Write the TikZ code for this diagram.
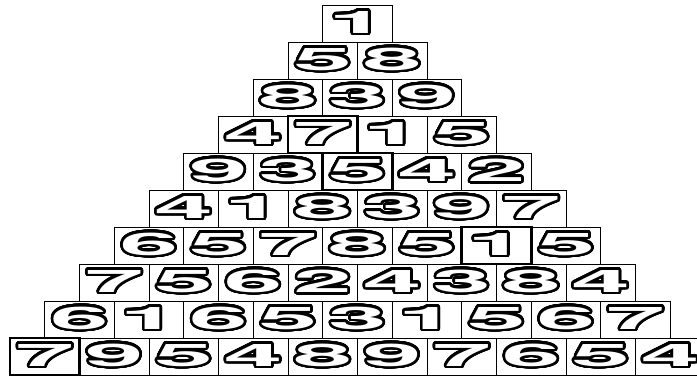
\documentclass[tikz,border=0pt]{standalone}
\usepackage{fontspec}
\usepackage{graphicx}
\usepackage[copies]{contour}
\setmainfont{TeX Gyre Heros}
\usetikzlibrary{positioning}
\contourlength{2.6pt}
\contournumber{48}
\newcommand{\outdigit}[1]{\contour{black}{\scalebox{3.4}[1]{#1}}}

\begin{document}
\begin{tikzpicture}[
    x=1pt, y=1pt,
    cell/.style={
        rectangle, draw=black, line width=0.9pt,
        minimum width=69.5pt, minimum height=37pt,
        inner sep=0pt, outer sep=0pt, text=white,
        font=\fontsize{31}{31}\selectfont\bfseries
    },
    hot/.style={cell, line width=2.6pt},
    node distance=0pt
]
\useasboundingbox (0,0) rectangle (697,-376);

% ===================================================================
% ROWS 1--3
% ===================================================================
\node[cell] (r1c1) at (357.5,-23.5) {\outdigit{1}};

\node[cell, below=of r1c1.south west] (r2c1) {\outdigit{5}};
\node[cell, right=of r2c1] (r2c2) {\outdigit{8}};

\node[cell, below=of r2c1.south west] (r3c1) {\outdigit{8}};
\node[cell, right=of r3c1] (r3c2) {\outdigit{3}};
\node[cell, right=of r3c2] (r3c3) {\outdigit{9}};

% ===================================================================
% ROWS 4--6
% ===================================================================
\node[cell, below=of r3c1.south west] (r4c1) {\outdigit{4}};
\node[hot, right=of r4c1] (r4c2) {\outdigit{7}};
\node[cell, right=of r4c2] (r4c3) {\outdigit{1}};
\node[cell, right=of r4c3] (r4c4) {\outdigit{5}};

\node[cell, below=of r4c1.south west] (r5c1) {\outdigit{9}};
\node[cell, right=of r5c1] (r5c2) {\outdigit{3}};
\node[hot, right=of r5c2] (r5c3) {\outdigit{5}};
\node[cell, right=of r5c3] (r5c4) {\outdigit{4}};
\node[cell, right=of r5c4] (r5c5) {\outdigit{2}};

\node[cell, below=of r5c1.south west] (r6c1) {\outdigit{4}};
\node[cell, right=of r6c1] (r6c2) {\outdigit{1}};
\node[cell, right=of r6c2] (r6c3) {\outdigit{8}};
\node[cell, right=of r6c3] (r6c4) {\outdigit{3}};
\node[cell, right=of r6c4] (r6c5) {\outdigit{9}};
\node[cell, right=of r6c5] (r6c6) {\outdigit{7}};

% ===================================================================
% ROWS 7--8
% ===================================================================
\node[cell, below=of r6c1.south west] (r7c1) {\outdigit{6}};
\node[cell, right=of r7c1] (r7c2) {\outdigit{5}};
\node[cell, right=of r7c2] (r7c3) {\outdigit{7}};
\node[cell, right=of r7c3] (r7c4) {\outdigit{8}};
\node[cell, right=of r7c4] (r7c5) {\outdigit{5}};
\node[hot, right=of r7c5] (r7c6) {\outdigit{1}};
\node[cell, right=of r7c6] (r7c7) {\outdigit{5}};

\node[cell, below=of r7c1.south west] (r8c1) {\outdigit{7}};
\node[cell, right=of r8c1] (r8c2) {\outdigit{5}};
\node[cell, right=of r8c2] (r8c3) {\outdigit{6}};
\node[cell, right=of r8c3] (r8c4) {\outdigit{2}};
\node[cell, right=of r8c4] (r8c5) {\outdigit{4}};
\node[cell, right=of r8c5] (r8c6) {\outdigit{3}};
\node[cell, right=of r8c6] (r8c7) {\outdigit{8}};
\node[cell, right=of r8c7] (r8c8) {\outdigit{4}};

% ===================================================================
% ROWS 9--10
% ===================================================================
\node[cell, below=of r8c1.south west] (r9c1) {\outdigit{6}};
\node[cell, right=of r9c1] (r9c2) {\outdigit{1}};
\node[cell, right=of r9c2] (r9c3) {\outdigit{6}};
\node[cell, right=of r9c3] (r9c4) {\outdigit{5}};
\node[cell, right=of r9c4] (r9c5) {\outdigit{3}};
\node[cell, right=of r9c5] (r9c6) {\outdigit{1}};
\node[cell, right=of r9c6] (r9c7) {\outdigit{5}};
\node[cell, right=of r9c7] (r9c8) {\outdigit{6}};
\node[cell, right=of r9c8] (r9c9) {\outdigit{7}};

\node[hot, below=of r9c1.south west] (r10c1) {\outdigit{7}};
\node[cell, right=of r10c1] (r10c2) {\outdigit{9}};
\node[cell, right=of r10c2] (r10c3) {\outdigit{5}};
\node[cell, right=of r10c3] (r10c4) {\outdigit{4}};
\node[cell, right=of r10c4] (r10c5) {\outdigit{8}};
\node[cell, right=of r10c5] (r10c6) {\outdigit{9}};
\node[cell, right=of r10c6] (r10c7) {\outdigit{7}};
\node[cell, right=of r10c7] (r10c8) {\outdigit{6}};
\node[cell, right=of r10c8] (r10c9) {\outdigit{5}};
\node[cell, right=of r10c9] (r10c10) {\outdigit{4}};

\end{tikzpicture}
\end{document}
